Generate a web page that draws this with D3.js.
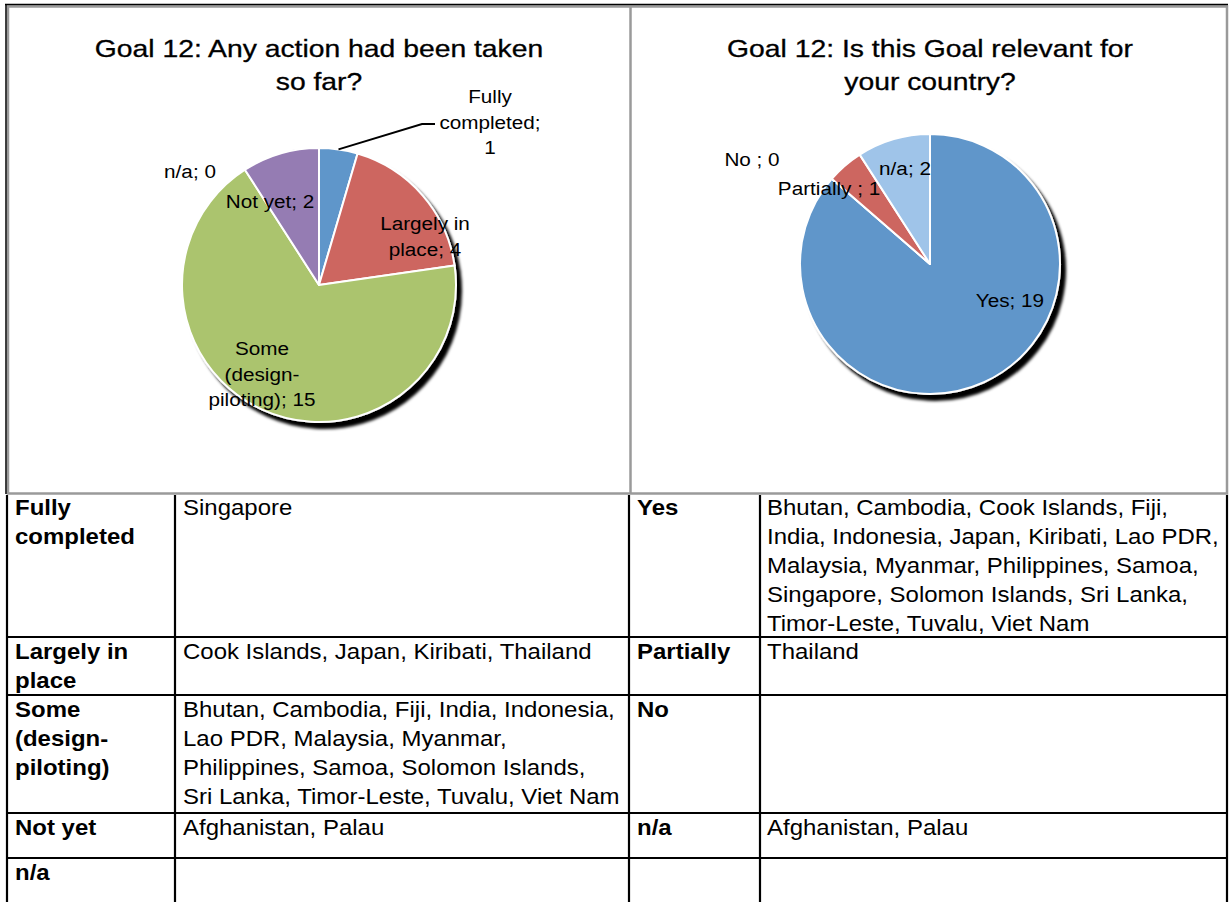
<!DOCTYPE html>
<html>
<head>
<meta charset="utf-8">
<script src="https://cdnjs.cloudflare.com/ajax/libs/d3/7.8.5/d3.min.js"></script>
<style>
body { margin: 0; background: #fff; }
svg text { font-family: "Liberation Sans", Arial, Helvetica, sans-serif; fill: #000; }
</style>
</head>
<body>
<div id="chart"></div>
<script>
// left pie: any action taken so far
var actionCategories = ["Fully completed", "Largely in place", "Some (design-piloting)", "Not yet", "n/a"];
var actionValues = [1, 4, 15, 2, 0];
var actionLabels = ["Fully|completed;|{v}", "Largely in|place; {v}", "Some|(design-|piloting); {v}", "Not yet; {v}", "n/a; {v}"];
var actionTitle = ["Goal 12: Any action had been taken", "so far?"];

// right pie: is the goal relevant
var relevantCategories = ["Yes", "No", "Partially", "n/a"];
var relevantValues = [19, 0, 1, 2];
var relevantLabels = ["Yes; {v}", "No ; {v}", "Partially ; {v}", "n/a; {v}"];
var relevantTitle = ["Goal 12: Is this Goal relevant for", "your country?"];

// country table below the charts
var actionRowNames = ["Fully|completed", "Largely in|place", "Some|(design-|piloting)", "Not yet", "n/a"];
var actionCountries = [
  ["Singapore"],
  ["Cook Islands, Japan, Kiribati, Thailand"],
  ["Bhutan, Cambodia, Fiji, India, Indonesia,", "Lao PDR, Malaysia, Myanmar,", "Philippines, Samoa, Solomon Islands,", "Sri Lanka, Timor-Leste, Tuvalu, Viet Nam"],
  ["Afghanistan, Palau"],
  []
];
var relevantRowNames = ["Yes", "Partially", "No", "n/a", ""];
var relevantCountries = [
  ["Bhutan, Cambodia, Cook Islands, Fiji,", "India, Indonesia, Japan, Kiribati, Lao PDR,", "Malaysia, Myanmar, Philippines, Samoa,", "Singapore, Solomon Islands, Sri Lanka,", "Timor-Leste, Tuvalu, Viet Nam"],
  ["Thailand"],
  [],
  ["Afghanistan, Palau"],
  []
];

var width = 1229, height = 902;

var svg = d3.select("#chart").append("svg")
  .attr("width", width)
  .attr("height", height);

// drop shadow behind the pies
var filter = svg.append("defs").append("filter")
  .attr("id", "shadow")
  .attr("x", "-10%").attr("y", "-10%")
  .attr("width", "130%").attr("height", "130%");
filter.append("feGaussianBlur").attr("in", "SourceAlpha").attr("stdDeviation", 1.6);
filter.append("feOffset").attr("dx", 5).attr("dy", 6).attr("result", "off");
var merge = filter.append("feMerge");
merge.append("feMergeNode").attr("in", "off");
merge.append("feMergeNode").attr("in", "SourceGraphic");

// text that is a bit wider than the font, like the original
function wideText(g, x, y, str, size, sx, weight, anchor) {
  return g.append("text")
    .attr("transform", "translate(" + x + "," + y + ") scale(" + sx + ",1)")
    .attr("text-anchor", anchor || "middle")
    .style("font-size", size + "px")
    .style("font-weight", weight || "normal")
    .text(str);
}

function drawPie(opts) {
  var g = svg.append("g").attr("transform", "translate(" + opts.cx + "," + opts.cy + ")");

  var pie = d3.pie().sort(null).value(function (d) { return d; });
  var arcs = pie(opts.values);
  var arc = d3.arc().innerRadius(0).outerRadius(opts.r);

  g.append("g")
    .attr("filter", "url(#shadow)")
    .selectAll("path")
    .data(arcs)
    .enter().append("path")
      .attr("d", arc)
      .attr("fill", function (d, i) { return opts.colors[i]; })
      .attr("stroke", "#fff")
      .attr("stroke-width", 2)
      .attr("stroke-linejoin", "round");

  // leader line for a label sitting outside the pie
  if (opts.leader) {
    var edge = d3.arc().innerRadius(opts.r).outerRadius(opts.r).centroid(arcs[opts.leader.index]);
    g.append("polyline")
      .attr("points", [edge, opts.leader.elbow, opts.leader.end].map(function (p) { return p.join(","); }).join(" "))
      .attr("fill", "none")
      .attr("stroke", "#000")
      .attr("stroke-width", 2);
  }

  // data labels
  arcs.forEach(function (d, i) {
    var lines = opts.labels[i].replace("{v}", d.value).split("|");
    var pos = opts.labelPos[i];
    lines.forEach(function (line, j) {
      wideText(g, pos[0], pos[1] + j * 25.5, line, 19, 1.09);
    });
  });

  // title, drawn a little heavier
  opts.title.forEach(function (line, j) {
    wideText(svg, opts.cx, 57 + j * 33, line, 24, 1.18)
      .style("stroke", "#000")
      .style("stroke-width", 0.3);
  });
}

// frame around the two chart cells
svg.append("rect")
  .attr("x", 8).attr("y", 6.5)
  .attr("width", 1219).attr("height", 487)
  .attr("fill", "none").attr("stroke", "#9a9a9a").attr("stroke-width", 2.5);
svg.append("line").attr("x1", 630.5).attr("x2", 630.5).attr("y1", 6).attr("y2", 494)
  .attr("stroke", "#9a9a9a").attr("stroke-width", 2.5);
svg.append("line").attr("x1", 5).attr("x2", 1228).attr("y1", 4.5).attr("y2", 4.5)
  .attr("stroke", "#000").attr("stroke-width", 1.5);
svg.append("line").attr("x1", 6).attr("x2", 6).attr("y1", 4).attr("y2", 494)
  .attr("stroke", "#000").attr("stroke-width", 1.5);

drawPie({
  cx: 319, cy: 285, r: 137,
  values: actionValues,
  colors: ["#5f96ca", "#cd6661", "#abc46e", "#957bb3", "#4bacc6"],
  labels: actionLabels,
  labelPos: [[171, -182], [106, -55], [-57, 70], [-49, -77], [-129, -107]],
  leader: { index: 0, elbow: [103, -161], end: [116, -161] },
  title: actionTitle
});

drawPie({
  cx: 930, cy: 264, r: 130,
  values: relevantValues,
  colors: ["#6096ca", "#cd6661", "#cd6661", "#9fc4e9"],
  labels: relevantLabels,
  labelPos: [[80, 43], [-178, -98], [-101, -69], [-25, -89]],
  title: relevantTitle
});

// table of countries
var rowTops = [493, 637, 695, 813, 858];
var colX = [7, 175, 629, 760, 1227];
var table = svg.append("g");

table.selectAll("line.h")
  .data(rowTops.slice(1))
  .enter().append("line")
    .attr("x1", 6).attr("x2", 1228)
    .attr("y1", function (d) { return d; }).attr("y2", function (d) { return d; })
    .attr("stroke", "#000").attr("stroke-width", 2.2);

table.selectAll("line.v")
  .data(colX)
  .enter().append("line")
    .attr("x1", function (d) { return d; }).attr("x2", function (d) { return d; })
    .attr("y1", 495).attr("y2", height)
    .attr("stroke", "#000").attr("stroke-width", 2.2);

function fillColumn(names, countries, labelX, valueX) {
  names.forEach(function (name, i) {
    var y0 = rowTops[i] + 22;
    name.split("|").forEach(function (line, j) {
      if (line) wideText(table, labelX, y0 + j * 29, line, 22, 1.09, "bold", "start");
    });
    countries[i].forEach(function (line, j) {
      wideText(table, valueX, y0 + j * 29, line, 22, 1.09, "normal", "start");
    });
  });
}

fillColumn(actionRowNames, actionCountries, 15, 183);
fillColumn(relevantRowNames, relevantCountries, 637, 767);
</script>
</body>
</html>
